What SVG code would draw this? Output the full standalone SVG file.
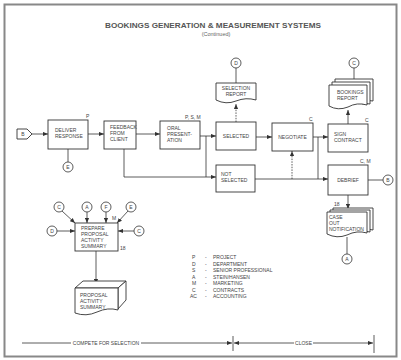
<svg xmlns="http://www.w3.org/2000/svg" width="401" height="360" viewBox="0 0 401 360">
<style>
.t{font-family:"Liberation Sans",Arial,sans-serif;font-size:5px;fill:#444;}
.c{text-anchor:middle;}
.b{fill:#fff;stroke:#333;stroke-width:0.9;}
.l{fill:none;stroke:#333;stroke-width:0.8;}
.d{fill:none;stroke:#333;stroke-width:0.8;stroke-dasharray:1.5 1.2;}
.cir{fill:#fff;stroke:#333;stroke-width:0.8;}
</style>
<defs>
<marker id="ah" viewBox="0 0 6 6" refX="6" refY="3" markerWidth="5" markerHeight="5" orient="auto" markerUnits="userSpaceOnUse">
<path d="M0,0.5 L6,3 L0,5.5 Z" fill="#333"/>
</marker>
</defs>
<rect x="0" y="0" width="401" height="360" fill="#fff"/>
<rect x="4.5" y="4.5" width="392" height="352" fill="none" stroke="#888" stroke-width="2"/>

<g id="title">
<text x="213" y="28" class="t c" style="font-size:6.5px;font-weight:bold;fill:#555" textLength="216" lengthAdjust="spacingAndGlyphs">BOOKINGS GENERATION &amp; MEASUREMENT SYSTEMS</text>
<text x="216" y="36" class="t c" style="font-size:5.5px;fill:#666">(Continued)</text>
</g>

<g id="connectors">
<path class="l" d="M32,134 H48" marker-end="url(#ah)"/>
<path class="l" d="M68,149 V162"/>
<path class="l" d="M88,134 H104" marker-end="url(#ah)"/>
<path class="l" d="M136,134 H160" marker-end="url(#ah)"/>
<path class="l" d="M200,136 H216" marker-end="url(#ah)"/>
<path class="l" d="M124,149 V177 H216" marker-end="url(#ah)"/>
<path class="l" d="M206,136 V177"/>
<path class="d" d="M236,122 V104" marker-end="url(#ah)"/>
<path class="l" d="M236,68 V83"/>
<path class="l" d="M256,137 H272" marker-end="url(#ah)"/>
<path class="l" d="M313,137 H328" marker-end="url(#ah)"/>
<path class="l" d="M318,137 V179"/>
<path class="l" d="M255,179 H328" marker-end="url(#ah)"/>
<path class="d" d="M292,179 V151" marker-end="url(#ah)"/>
<path class="l" d="M348,124 V110" marker-end="url(#ah)"/>
<path class="l" d="M354,68 V79"/>
<path class="l" d="M368,180 H383"/>
<path class="l" d="M348,195 V209" marker-end="url(#ah)"/>
<path class="l" d="M347,237 V254"/>
<path class="l" d="M62,211 L75,223" marker-end="url(#ah)"/>
<path class="l" d="M87,212 V223" marker-end="url(#ah)"/>
<path class="l" d="M106,212 V223" marker-end="url(#ah)"/>
<path class="l" d="M128,211 L117,223" marker-end="url(#ah)"/>
<path class="l" d="M57,231 H75" marker-end="url(#ah)"/>
<path class="l" d="M134,231 H118" marker-end="url(#ah)"/>
<path class="l" d="M96,251 V284" marker-end="url(#ah)"/>
</g>

<g id="start-B">
<path class="b" d="M17,129 H27 L32,134 L27,139 H17 Z"/>
<text x="23" y="135.8" class="t c">B</text>
</g>

<g id="deliver-response">
<rect class="b" x="48" y="120" width="40" height="29"/>
<text x="55" y="132" class="t">DELIVER</text>
<text x="55" y="138" class="t">RESPONSE</text>
<text x="86" y="118" class="t">P</text>
</g>
<g id="circle-E1">
<circle class="cir" cx="68" cy="167" r="5"/>
<text x="68" y="168.8" class="t c">E</text>
</g>

<g id="feedback">
<rect class="b" x="104" y="121" width="32" height="28"/>
<text x="110" y="129" class="t">FEEDBACK</text>
<text x="110" y="135" class="t">FROM</text>
<text x="110" y="141" class="t">CLIENT</text>
</g>

<g id="oral-presentation">
<rect class="b" x="160" y="121" width="40" height="28"/>
<text x="167" y="130" class="t">ORAL</text>
<text x="167" y="136" class="t">PRESENT-</text>
<text x="167" y="142" class="t">ATION</text>
<text x="185" y="118.5" class="t">P, S, M</text>
</g>

<g id="selected">
<rect class="b" x="216" y="122" width="40" height="28"/>
<text x="236" y="138" class="t c">SELECTED</text>
</g>

<g id="selection-report">
<path class="b" d="M216,83 H256 V100 Q246,97 236,101 Q226,105 216,100 Z"/>
<text x="236" y="90" class="t c">SELECTION</text>
<text x="236" y="96" class="t c">REPORT</text>
</g>
<g id="circle-D1">
<circle class="cir" cx="236" cy="63" r="5"/>
<text x="236" y="64.8" class="t c">D</text>
</g>

<g id="not-selected">
<rect class="b" x="216" y="165" width="39" height="27"/>
<text x="221" y="176" class="t">NOT</text>
<text x="221" y="182" class="t">SELECTED</text>
</g>

<g id="negotiate">
<rect class="b" x="272" y="123" width="41" height="28"/>
<text x="292.5" y="138.5" class="t c">NEGOTIATE</text>
<text x="309" y="120.5" class="t">C</text>
</g>

<g id="sign-contract">
<rect class="b" x="328" y="124" width="40" height="28"/>
<text x="334" y="136" class="t">SIGN</text>
<text x="334" y="142" class="t">CONTRACT</text>
<text x="365" y="121.5" class="t">C</text>
</g>

<g id="bookings-report">
<path class="b" d="M335,79 H373 V101 Q368,100 365,101 V85 H335 Z"/>
<path class="b" d="M332,82 H370 V104 Q366,103 362,104 V88 H332 Z"/>
<path class="b" d="M329,85 H367 V105 Q357,102 348,107 Q338,111 329,106 Z"/>
<text x="337" y="94" class="t">BOOKINGS</text>
<text x="337" y="100" class="t">REPORT</text>
</g>
<g id="circle-C1">
<circle class="cir" cx="354" cy="63" r="5"/>
<text x="354" y="64.8" class="t c">C</text>
</g>

<g id="debrief">
<rect class="b" x="328" y="165" width="40" height="30"/>
<text x="348" y="182" class="t c">DEBRIEF</text>
<text x="360" y="162.5" class="t">C, M</text>
</g>
<g id="circle-B">
<circle class="cir" cx="388" cy="180" r="5"/>
<text x="388" y="181.8" class="t c">B</text>
</g>

<g id="case-out">
<path class="b" d="M333,208 H373 V230 Q370,229 367,230 V214 H333 Z"/>
<path class="b" d="M330,210 H370 V232 Q367,231 364,232 V216 H330 Z"/>
<path class="b" d="M327,212 H367 V233 Q357,230 347,235 Q337,239 327,234 Z"/>
<text x="329" y="219" class="t">CASE</text>
<text x="329" y="225" class="t">OUT</text>
<text x="329" y="231" class="t">NOTIFICATION</text>
<text x="334" y="206" class="t">18</text>
</g>
<g id="circle-A1">
<circle class="cir" cx="347" cy="259" r="5"/>
<text x="347" y="260.8" class="t c">A</text>
</g>

<g id="prepare-summary">
<rect class="b" x="75" y="223" width="43" height="28"/>
<text x="81" y="229.5" class="t">PREPARE</text>
<text x="81" y="235.5" class="t">PROPOSAL</text>
<text x="81" y="241.5" class="t">ACTIVITY</text>
<text x="81" y="247.5" class="t">SUMMARY</text>
<text x="112" y="220" class="t">M</text>
<text x="120" y="250" class="t">18</text>
</g>
<g id="circle-C2"><circle class="cir" cx="59" cy="207" r="5"/><text x="59" y="208.8" class="t c">C</text></g>
<g id="circle-A2"><circle class="cir" cx="87" cy="207" r="5"/><text x="87" y="208.8" class="t c">A</text></g>
<g id="circle-F"><circle class="cir" cx="106" cy="207" r="5"/><text x="106" y="208.8" class="t c">F</text></g>
<g id="circle-E2"><circle class="cir" cx="131" cy="207" r="5"/><text x="131" y="208.8" class="t c">E</text></g>
<g id="circle-D2"><circle class="cir" cx="52" cy="231" r="5"/><text x="52" y="232.8" class="t c">D</text></g>
<g id="circle-C3"><circle class="cir" cx="139" cy="231" r="5"/><text x="139" y="232.8" class="t c">C</text></g>

<g id="proposal-summary">
<path class="b" d="M75,288 L83,281 H126 L118,288 Z"/>
<path class="b" d="M118,288 L126,281 V300 L118,309 Z"/>
<path class="b" d="M75,288 H118 V310 Q108,307 97,312 Q86,317 75,313 Z"/>
<text x="80" y="297" class="t">PROPOSAL</text>
<text x="80" y="303" class="t">ACTIVITY</text>
<text x="80" y="309" class="t">SUMMARY</text>
</g>

<g id="legend">
<text x="192" y="259" class="t">P</text><text x="205" y="259" class="t">-</text><text x="213" y="259" class="t">PROJECT</text>
<text x="192" y="265.5" class="t">D</text><text x="205" y="265.5" class="t">-</text><text x="213" y="265.5" class="t">DEPARTMENT</text>
<text x="192" y="272" class="t">S</text><text x="205" y="272" class="t">-</text><text x="213" y="272" class="t">SENIOR PROFESSIONAL</text>
<text x="192" y="278.5" class="t">A</text><text x="205" y="278.5" class="t">-</text><text x="213" y="278.5" class="t">STEIN/HANSEN</text>
<text x="192" y="285" class="t">M</text><text x="205" y="285" class="t">-</text><text x="213" y="285" class="t">MARKETING</text>
<text x="192" y="291.5" class="t">C</text><text x="205" y="291.5" class="t">-</text><text x="213" y="291.5" class="t">CONTRACTS</text>
<text x="190" y="298" class="t">AC</text><text x="205" y="298" class="t">-</text><text x="213" y="298" class="t">ACCOUNTING</text>
</g>

<g id="timeline">
<path class="l" d="M22,343 H71"/>
<path class="l" d="M141,343 H232" marker-end="url(#ah)"/>
<text x="106" y="344.7" class="t c">COMPETE FOR SELECTION</text>
<path class="l" d="M233,336 V351"/>
<path class="l" d="M294,343 H234" marker-end="url(#ah)"/>
<path class="l" d="M313,343 H373" marker-end="url(#ah)"/>
<text x="303.5" y="344.7" class="t c">CLOSE</text>
<path class="l" d="M374,335 V353"/>
</g>
</svg>
